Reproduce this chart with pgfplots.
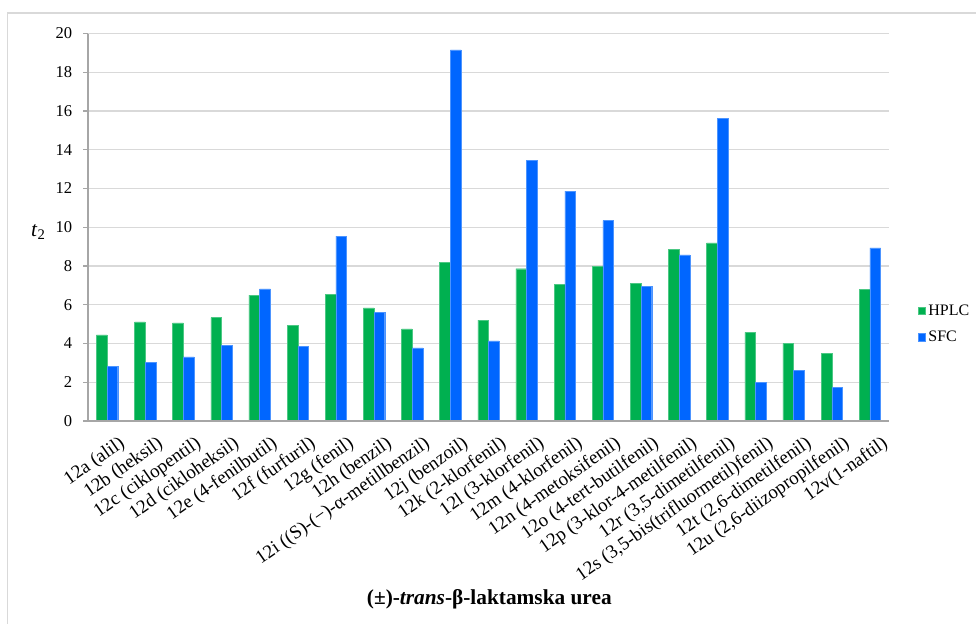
\documentclass[border=0pt]{standalone}
\usepackage{pgfplots}
\pgfplotsset{compat=1.18}
\usepackage{fontspec}
\setmainfont{Liberation Serif}
\definecolor{hplc}{HTML}{00B050}
\definecolor{sfc}{HTML}{0066FF}
\definecolor{gridc}{HTML}{D9D9D9}
\definecolor{axc}{HTML}{A6A6A6}
\begin{document}
\begin{tikzpicture}[x=1pt,y=1pt]
\useasboundingbox (0,0) rectangle (732,468);
% chart area border (left and top only visible)
\draw[gridc, line width=1.2pt] (5.6,-5) -- (5.6,458.25) -- (740,458.25);
\begin{axis}[
  name=ax,
  at={(66pt,152.25pt)}, anchor=south west,
  scale only axis,
  width=600.75pt, height=290.6pt,
  ybar=0pt, bar width=8pt,
  xmin=-0.5, xmax=20.5,
  ymin=0, ymax=20,
  ytick={0,2,...,20},
  xtick=data,
  xticklabels={{12a (alil)},{12b (heksil)},{12c (ciklopentil)},{12d (cikloheksil)},{12e (4-fenilbutil)},{12f (furfuril)},{12g (fenil)},{12h (benzil)},{12i ((S)-(−)-α-metillbenzil)},{12j (benzoil)},{12k (2-klorfenil)},{12l (3-klorfenil)},{12m (4-klorfenil)},{12n (4-metoksifenil)},{12o (4-tert-butilfenil)},{12p (3-klor-4-metilfenil)},{12r (3,5-dimetilfenil)},{12s (3,5-bis(trifluormetil)fenil)},{12t (2,6-dimetilfenil)},{12u (2,6-diizopropilfenil)},{12v(1-naftil)}},
  axis x line*=bottom, axis y line*=left,
  axis line style={draw=none},
  xmajorgrids=false, ymajorgrids=false,
  ytick pos=left, xtick pos=bottom,
  xtick style={draw=none},
  ytick style={axc, line width=0.8pt},
  tick align=outside, major tick length=3.75pt,
  /pgf/number format/assume math mode=true,
  yticklabel style={font=\fontsize{12.4}{14}\selectfont, anchor=east, inner sep=0pt, xshift=-8pt},
  xticklabel style={font=\fontsize{14.2}{16}\selectfont, rotate=35, anchor=north east, inner sep=1pt, xshift=4pt, yshift=-9pt},
  legend style={at={(1.036,0.25)}, anchor=west, draw=none, fill=none, font=\fontsize{12}{14}\selectfont, row sep=6.5pt, inner sep=0pt},
  legend cell align=left,
  legend image code/.code={\fill[#1] (0pt,-2.6pt) rectangle (5.4pt,2.8pt);},
  clip=false,
]
\pgfplotsinvokeforeach{2,4,...,20}{\draw[gridc, line width=0.8pt] (axis cs:-0.5,#1) -- (axis cs:20.5,#1);}
\addplot[fill=hplc, draw=hplc!70!white, line width=0.3pt] coordinates {
(0,4.44) (1,5.12) (2,5.07) (3,5.34) (4,6.50) (5,4.94) (6,6.55) (7,5.84) (8,4.75) (9,8.18) (10,5.21) (11,7.86) (12,7.05) (13,8.00) (14,7.09) (15,8.86) (16,9.20) (17,4.58) (18,4.00) (19,3.49) (20,6.79)};
\addplot[fill=sfc, draw=sfc!70!white, line width=0.3pt] coordinates {
(0,2.83) (1,3.04) (2,3.31) (3,3.90) (4,6.82) (5,3.86) (6,9.54) (7,5.62) (8,3.77) (9,19.16) (10,4.13) (11,13.45) (12,11.86) (13,10.34) (14,6.96) (15,8.58) (16,15.61) (17,2.01) (18,2.60) (19,1.74) (20,8.94)};
\legend{HPLC,SFC}
\end{axis}
% cover any frame segment on the right edge of the plot area
\draw[white, line width=1.6pt] ([xshift=0.45pt,yshift=1.2pt]ax.south east) -- ([xshift=0.45pt,yshift=-0.3pt]ax.north east);
\draw[axc, line width=0.9pt] (ax.south west) -- (ax.south east);
\draw[axc, line width=0.9pt] (ax.south west) -- (ax.north west);
\node[font=\fontsize{16}{18}\selectfont] at (28.5,294) {\textit{t}\raisebox{-0.35ex}{\fontsize{11}{12}\selectfont 2}};
\node[anchor=base, font=\fontsize{16}{18}\bfseries] at (367,14.25) {(±)-\textit{trans}-β-laktamska urea};
\end{tikzpicture}
\end{document}
